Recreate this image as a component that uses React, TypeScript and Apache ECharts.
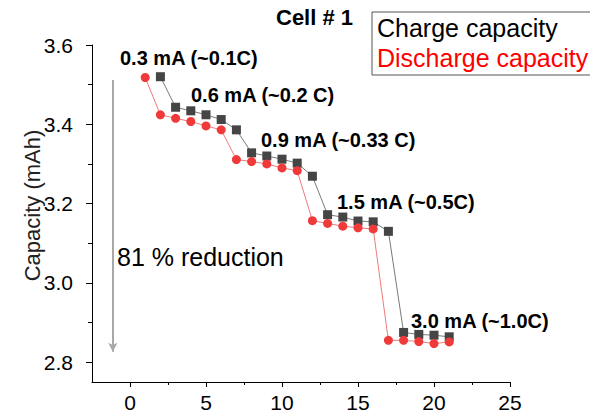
import React, { useEffect, useRef } from "react";
import * as echarts from "echarts";

// Cycle numbers and capacities (mAh)
const chargeCycles = [2, 3, 4, 5, 6, 7, 8, 9, 10, 11, 12, 13, 14, 15, 16, 17, 18, 19, 20, 21];
const chargeCapacity = [
  3.52, 3.443, 3.434, 3.424, 3.412, 3.386, 3.328, 3.32, 3.312, 3.302, 3.269, 3.172, 3.166, 3.156,
  3.154, 3.13, 2.875, 2.87, 2.868, 2.864,
];
const dischargeCycles = [1, 2, 3, 4, 5, 6, 7, 8, 9, 10, 11, 12, 13, 14, 15, 16, 17, 18, 19, 20, 21];
const dischargeCapacity = [
  3.518, 3.424, 3.415, 3.407, 3.396, 3.386, 3.311, 3.306, 3.3, 3.29, 3.283, 3.157, 3.15, 3.143,
  3.139, 3.136, 2.855, 2.855, 2.852, 2.847, 2.851,
];

const xMajorTicks = [0, 5, 10, 15, 20, 25];
const xMinorTicks = [2.5, 7.5, 12.5, 17.5, 22.5];
const yMajorTicks = [2.8, 3.0, 3.2, 3.4, 3.6];
const yMinorTicks = [2.9, 3.1, 3.3, 3.5];

// Arrow showing the capacity drop: [x, yStart, yEnd]
const reductionArrow = [-1.13, 3.512, 2.826];

const FONT = 'Arial, "Liberation Sans", sans-serif';

const rateLabels = [
  { text: "0.3 mA (~0.1C)", x: 120, y: 58 },
  { text: "0.6 mA (~0.2 C)", x: 191, y: 95 },
  { text: "0.9 mA (~0.33 C)", x: 261, y: 140 },
  { text: "1.5 mA (~0.5C)", x: 337, y: 202 },
  { text: "3.0 mA (~1.0C)", x: 411, y: 321 },
];

export default function App() {
  const ref = useRef<HTMLDivElement>(null);

  useEffect(() => {
    if (!ref.current) return;
    const chart = echarts.init(ref.current, undefined, { renderer: "svg" });

    const chargeData = chargeCycles.map((c, i) => [c, chargeCapacity[i]]);
    const dischargeData = dischargeCycles.map((c, i) => [c, dischargeCapacity[i]]);

    const option: any = {
      animation: false,
      backgroundColor: "#fff",
      textStyle: { fontFamily: FONT },
      title: {
        text: "Cell # 1",
        left: 276,
        top: 6,
        padding: 0,
        textStyle: { fontFamily: FONT, fontSize: 22, fontWeight: "bold", color: "#000" },
      },
      legend: {
        orient: "vertical",
        left: 372,
        top: 12,
        padding: [1, 4, 3, 0],
        itemGap: 1,
        itemWidth: 0,
        itemHeight: 0,
        icon: "none",
        borderColor: "#555",
        borderWidth: 1,
        selectedMode: false,
        textStyle: { fontFamily: FONT, fontSize: 25, lineHeight: 29 },
        data: [
          { name: "Charge capacity", textStyle: { color: "#000" } },
          { name: "Discharge capacity", textStyle: { color: "#ff0000" } },
        ],
      },
      grid: { left: 92, right: 80, top: 45, bottom: 30 },
      xAxis: [
        {
          type: "value",
          min: -2.5,
          max: 25,
          splitLine: { show: false },
          axisLine: { show: true, onZero: false, lineStyle: { color: "#000", width: 1 } },
          axisTick: { show: true, customValues: xMajorTicks, length: 5, lineStyle: { color: "#000" } },
          axisLabel: {
            customValues: xMajorTicks,
            margin: 10,
            fontSize: 21,
            color: "#000",
            fontFamily: FONT,
          },
        },
        {
          type: "value",
          min: -2.5,
          max: 25,
          position: "bottom",
          splitLine: { show: false },
          axisLine: { show: false, onZero: false },
          axisTick: { show: true, customValues: xMinorTicks, length: 3, lineStyle: { color: "#000" } },
          axisLabel: { show: false },
        },
      ],
      yAxis: [
        {
          type: "value",
          min: 2.75,
          max: 3.6,
          name: "Capacity (mAh)",
          nameLocation: "middle",
          nameGap: 49,
          nameMoveOverlap: false,
          nameTextStyle: {
            fontFamily: FONT,
            fontSize: 22,
            color: "#222",
            padding: [0, 0, 0, 16],
          },
          splitLine: { show: false },
          axisLine: { show: true, onZero: false, lineStyle: { color: "#000", width: 1 } },
          axisTick: { show: true, customValues: yMajorTicks, length: 6, lineStyle: { color: "#000" } },
          axisLabel: {
            customValues: yMajorTicks,
            formatter: (v: number) => v.toFixed(1),
            margin: 19,
            fontSize: 21,
            color: "#000",
            fontFamily: FONT,
          },
        },
        {
          type: "value",
          min: 2.75,
          max: 3.6,
          position: "left",
          splitLine: { show: false },
          axisLine: { show: false, onZero: false },
          axisTick: { show: true, customValues: yMinorTicks, length: 4, lineStyle: { color: "#000" } },
          axisLabel: { show: false },
        },
      ],
      series: [
        {
          name: "Charge capacity",
          type: "line",
          xAxisIndex: 0,
          yAxisIndex: 0,
          data: chargeData,
          symbol: "rect",
          symbolSize: 9,
          itemStyle: { color: "#454545" },
          lineStyle: { color: "#7a7a7a", width: 1 },
          z: 2,
        },
        {
          name: "Discharge capacity",
          type: "line",
          xAxisIndex: 0,
          yAxisIndex: 0,
          data: dischargeData,
          symbol: "circle",
          symbolSize: 9,
          itemStyle: { color: "#f03a3a" },
          lineStyle: { color: "#f07a7a", width: 1 },
          z: 3,
          markLine: {
            silent: true,
            symbol: ["none", "arrow"],
            symbolSize: [7, 9],
            label: { show: false },
            lineStyle: { color: "#a8a8a8", width: 2, type: "solid" },
            data: [
              [
                { coord: [reductionArrow[0], reductionArrow[1]] },
                { coord: [reductionArrow[0], reductionArrow[2]] },
              ],
            ],
          },
        },
      ],
      graphic: [
        ...rateLabels.map((l) => ({
          type: "text",
          x: l.x,
          y: l.y,
          style: {
            text: l.text,
            fontFamily: FONT,
            fontSize: 20,
            fontWeight: "bold",
            fill: "#000",
            align: "left",
            verticalAlign: "middle",
          },
        })),
        {
          type: "text",
          x: 117,
          y: 257,
          style: {
            text: "81 % reduction",
            fontFamily: FONT,
            fontSize: 25,
            fill: "#000",
            align: "left",
            verticalAlign: "middle",
          },
        },
      ],
    };

    chart.setOption(option);
    return () => chart.dispose();
  }, []);

  return <div ref={ref} style={{ width: 590, height: 413, position: "absolute", left: 0, top: 0 }} />;
}
